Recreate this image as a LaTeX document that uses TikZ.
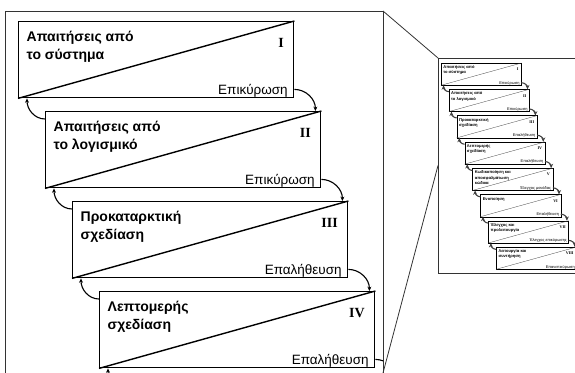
\documentclass[tikz,border=0pt]{standalone}
\usepackage{fontspec}
\setmainfont{Liberation Sans}
\newfontfamily\numfont{Liberation Serif}
\usetikzlibrary{positioning,arrows.meta}

% la scala delle fasi (#1 = prefisso dei nomi, #2 = fasi con testo, #3 = fasi in tutto)
\newcommand\stairs[3]{%
  \foreach \i/\phname/\phnum/\phcheck in {
      1/{Απαιτήσεις από\\το σύστημα}/I/Επικύρωση,
      2/{Απαιτήσεις από\\το λογισμικό}/II/Επικύρωση,
      3/{Προκαταρκτική\\σχεδίαση}/III/Επαλήθευση,
      4/{Λεπτομερής\\σχεδίαση}/IV/Επαλήθευση,
      5/{Κωδικοποίηση και\\αποσφαλμάτωση\\κώδικα}/V/Έλεγχος μονάδας,
      6/{Ενοποίηση}/VI/Επαλήθευση,
      7/{Έλεγχος και\\προλειτουργία}/VII/Έλεγχος επικύρωσης,
      8/{Λειτουργία και\\συντήρηση}/VIII/Επανεπικύρωση} {
    \ifnum\i>#3\else
      \node[phase] (#1\i) at ({18+27*(\i-1)},{21+90*(\i-1)}) {};
      \draw (#1\i.south west) -- (#1\i.north east);
    \fi
    \ifnum\i>#2\else
      \node[phasetitle] (#1t\i) at ([shift={(8pt,-9pt)}]#1\i.north west) {\phname};
      \node[phasenum] (#1n\i) at ([shift={(-10pt,-22pt)}]#1\i.north east) {\phnum};
      \node[phasecheck] (#1c\i) at ([shift={(-6pt,4pt)}]#1\i.south east) {\phcheck};
    \fi
  }
  % frecce tra le fasi
  \pgfmathtruncatemacro\nlast{#3-1}
  \foreach \i in {1,...,\nlast} {
    \pgfmathtruncatemacro\j{\i+1}
    \draw[flow] ([yshift=9pt]#1\i.south east) to[out=0,in=90] ([xshift=-6pt]#1\j.north east);
    \draw[flow] ([yshift=-8pt]#1\j.north west) to[out=180,in=-90] ([xshift=9pt]#1\i.south west);
  }
}

\begin{document}
\begin{tikzpicture}[
    x=1pt, y=-1pt,
    % fasi
    phase/.style={
        rectangle,
        draw=black,
        anchor=north west,
        inner sep=0pt,
        minimum width=275pt,
        minimum height=76pt
    },
    phasetitle/.style={
        anchor=north west,
        align=left,
        inner sep=0pt,
        font=\fontsize{14}{18}\selectfont\bfseries
    },
    phasenum/.style={
        anchor=east,
        inner sep=0pt,
        font=\numfont\fontsize{14}{16}\selectfont\bfseries
    },
    phasecheck/.style={
        anchor=base east,
        inner sep=0pt,
        font=\fontsize{13.5}{15}\selectfont
    },
    % frecce
    flow/.style={-{Stealth[length=0pt 4, width=0pt 3.6]}, line width=1.1pt},
    % cornici
    frame/.style={
        rectangle,
        draw=black!80,
        line width=0.8pt,
        anchor=north west,
        inner sep=0pt,
        outer sep=0pt
    },
    zoomline/.style={draw=black!80, line width=0.8pt}
]

\clip (0,0) rectangle (575,372);

% vista ingrandita
\node[frame, minimum width=378pt, minimum height=362pt] (zoomframe) at (5,11) {};
\begin{scope}[line width=1.4pt]
    \clip (zoomframe.south west) rectangle (zoomframe.north east);
    \stairs{m}{4}{5}
\end{scope}

% vista completa
\node[frame, minimum width=150pt, minimum height=215pt] (inset) at (438,58) {};
\draw[zoomline] (zoomframe.north east) -- (inset.north west);
\draw[zoomline] (zoomframe.south east) -- (inset.west);

\begin{scope}[shift={(435.7,56.9)}, scale=0.292, transform shape, line width=0.3pt, draw=black!75]
    \stairs{s}{8}{8}
\end{scope}

\end{tikzpicture}
\end{document}
